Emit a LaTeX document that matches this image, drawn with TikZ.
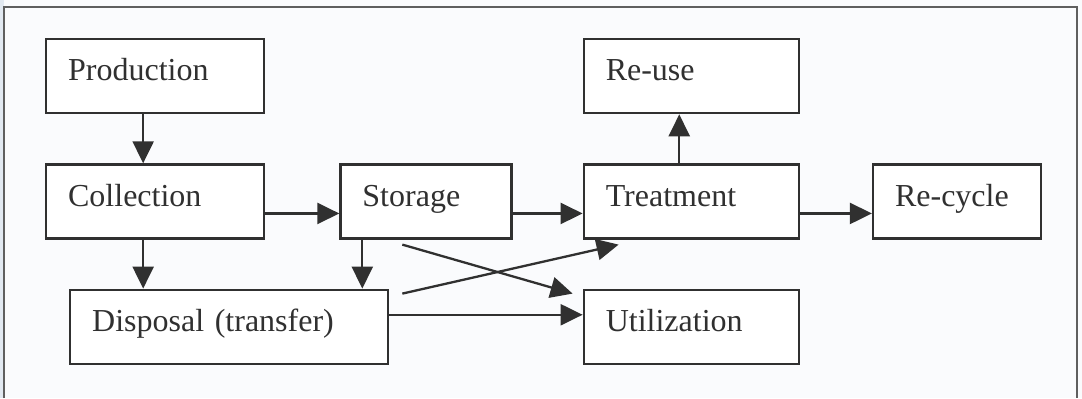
\documentclass[tikz,border=0pt]{standalone}
\usepackage{fontspec}
\setmainfont{Liberation Serif}
\usetikzlibrary{positioning,arrows.meta}

\definecolor{inkgray}{RGB}{48,48,48}
\definecolor{paper}{RGB}{250,251,253}
\definecolor{margin}{RGB}{226,233,241}
\definecolor{framegray}{RGB}{95,95,95}

\begin{document}
\begin{tikzpicture}[->,>={Triangle[length=11pt,width=10.5pt]},line width=1.15pt,color=inkgray]
\tikzstyle{box} = [rectangle, draw, fill=white, align=left, inner xsep=11pt, minimum height=37pt, text height=11.2pt, text depth=6.4pt, font=\fontsize{16}{19}\selectfont]
\useasboundingbox (0,0) rectangle (541pt,-199pt);
\fill[paper] (0,0) rectangle (541pt,-199pt);
\fill[margin] (0,0) rectangle (2pt,-199pt);
% page frame, open at the bottom
\draw[-,line width=0.6pt,framegray] (2pt,-199pt) -- (2pt,-3.5pt) -- (538.5pt,-3.5pt) -- (538.5pt,-199pt);

\node[box,text width=87pt,anchor=north west] (prod) at (22.5pt,-19pt) {Production};
\node[box,text width=87pt][below=24.5pt of prod] (coll) {Collection};
\node[box,text width=63.5pt][right=37pt of coll] (stor) {Storage};
\node[box,text width=85.5pt][right=35pt of stor] (treat) {Treatment};
\node[box,text width=85.5pt][above=24.5pt of treat] (reuse) {Re-use};
\node[box,text width=62pt][right=36pt of treat] (recyc) {Re-cycle};
\node[box,text width=137pt][below right=24.5pt and 12pt of coll.south west] (disp) {Disposal (transfer)};
\node[box,text width=85.5pt][below=24.5pt of treat] (util) {Utilization};

\draw ([xshift=-6pt]prod.south) -- ([xshift=-6pt]coll.north);
\draw ([xshift=-6pt]coll.south) -- ([xshift=-6pt]coll.south |- disp.north);
\draw ([yshift=-6pt]coll.east) -- ([yshift=-6pt]stor.west);
\draw ([xshift=11.5pt]stor.south west) -- ([xshift=11.5pt]stor.south west |- disp.north);
\draw ([yshift=-6pt]stor.east) -- ([yshift=-6pt]treat.west);
\draw ([xshift=-6pt]treat.north) -- ([xshift=-6pt]reuse.south);
\draw ([yshift=-6pt]treat.east) -- ([yshift=-6pt]recyc.west);
\draw ([yshift=6pt]disp.east) -- ([yshift=6pt]disp.east -| util.west);
% the two crossing arrows
\draw ([shift={(31.5pt,-2.5pt)}]stor.south west) -- ([shift={(-5pt,-2.5pt)}]util.north west);
\draw ([shift={(6.5pt,-2.5pt)}]disp.north east) -- ([shift={(18pt,-2.5pt)}]treat.south west);
\end{tikzpicture}
\end{document}
